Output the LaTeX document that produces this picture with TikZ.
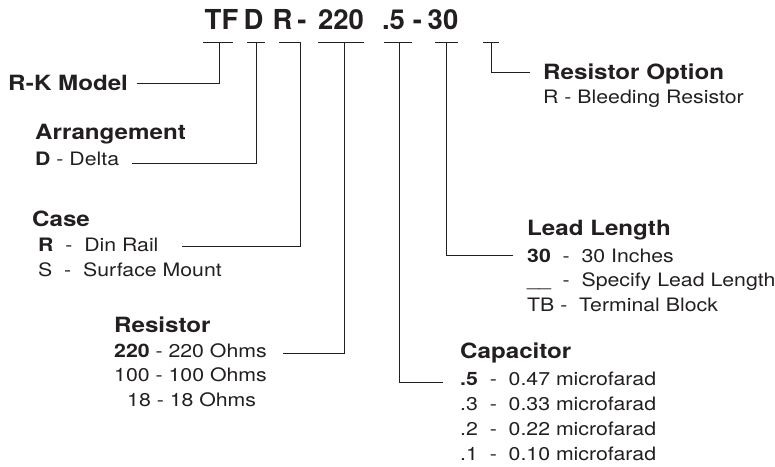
\documentclass[tikz,border=0pt]{standalone}
\usepackage{fontspec}
\setmainfont{TeX Gyre Heros}[FakeStretch=1.15]
\newfontfamily\codefont{TeX Gyre Heros}
\definecolor{ink}{HTML}{231F20}
\begin{document}
\begin{tikzpicture}[x=1pt,y=-1pt,
  code/.style={anchor=base,inner sep=0pt,font=\codefont\fontsize{27.5}{30}\selectfont\bfseries,text=ink},
  head/.style={anchor=base west,inner sep=0pt,font=\fontsize{21}{24}\selectfont\bfseries,text=ink},
  body/.style={anchor=base west,inner sep=0pt,font=\fontsize{18.5}{22}\selectfont,text=ink},
  conn/.style={draw=ink,line width=0.9pt}]
\useasboundingbox (0,0) rectangle (775,466);
% code
\node[code] (cTF) at (221.5,29) {TF};
\node[code] (cD) at (253.5,29) {D};
\node[code] (cR) at (282.5,29) {R};
\node[code] (cd1) at (302,29) {-};
\node[code] (c220) at (341,29) {220};
\node[code] (c5) at (393.5,29) {.5};
\node[code] (cd2) at (417.5,29) {-};
\node[code] (c30) at (443,29) {30};
% tees
\coordinate (t1a) at (203,42); \coordinate (t1b) at (233,42); \coordinate (t1) at (219,42);
\coordinate (t2a) at (247,42); \coordinate (t2b) at (265,42); \coordinate (t2) at (256,42);
\coordinate (t3a) at (279,42); \coordinate (t3) at (300,42);
\coordinate (t4a) at (318,42); \coordinate (t4b) at (364,42); \coordinate (t4) at (344,42);
\coordinate (t5a) at (384,42); \coordinate (t5b) at (412,42); \coordinate (t5) at (399,42);
\coordinate (t6a) at (435,42); \coordinate (t6b) at (458,42); \coordinate (t6) at (446,42);
\coordinate (t7a) at (483,42); \coordinate (t7b) at (499,42); \coordinate (t7) at (491,42);
\draw[conn] (t1a) -- (t1b);
\draw[conn] (t2a) -- (t2b);
\draw[conn] (t3a) -- (t3);
\draw[conn] (t4a) -- (t4b);
\draw[conn] (t5a) -- (t5b);
\draw[conn] (t6a) -- (t6b);
\draw[conn] (t7a) -- (t7b);
% labels
\node[head] (rk) at (8,90) {R-K Model};
\node[head] (arr) at (35,139) {Arrangement};
\node[body] (arr1) at (35,165) {\textbf{D} - Delta};
\node[head] (case) at (32,226) {Case};
\node[body] (case1) at (38,251) {\textbf{R}\ \ -\ \ Din Rail};
\node[body] (case2) at (38,276) {S\ \ -\ \ Surface Mount};
\node[head] (res) at (114,332) {Resistor};
\node[body] (res1) at (114,357) {\textbf{220} - 220 Ohms};
\node[body] (res2) at (114,381) {100 - 100 Ohms};
\node[body] (res3) at (127,406) {18 - 18 Ohms};
\node[head] (cap) at (460,358) {Capacitor};
\node[body] (cap1) at (460,385) {\textbf{.5}\ \ -\ \ 0.47 microfarad};
\node[body] (cap2) at (460,410) {.3\ \ -\ \ 0.33 microfarad};
\node[body] (cap3) at (460,435) {.2\ \ -\ \ 0.22 microfarad};
\node[body] (cap4) at (460,460) {.1\ \ -\ \ 0.10 microfarad};
\node[head] (lead) at (527,235) {Lead Length};
\node[body] (lead1) at (527,262) {\textbf{30}\ \ -\ \ 30 Inches};
\node[body] (lead2) at (527,286) {\_\_\ \ -\ \ Specify Lead Length};
\node[body] (lead3) at (527,311) {TB -\ \ Terminal Block};
\node[head] (opt) at (543,79) {Resistor Option};
\node[body] (opt1) at (543,103) {R - Bleeding Resistor};
% connectors
\coordinate (e1) at (137,83);
\draw[conn] (e1) -- (219,83) -- (t1);
\coordinate (e2) at (132,163);
\draw[conn] (e2) -- (256,163) -- (t2);
\coordinate (e3) at (182,246);
\draw[conn] (e3) -- (300,246) -- (t3);
\coordinate (e4) at (283,353);
\draw[conn] (e4) -- (344,353) -- (t4);
\coordinate (e5) at (443,382);
\draw[conn] (e5) -- (399,382) -- (t5);
\coordinate (e6) at (513,255);
\draw[conn] (e6) -- (446,255) -- (t6);
\coordinate (e7) at (530,72);
\draw[conn] (e7) -- (491,72) -- (t7);
\end{tikzpicture}
\end{document}
